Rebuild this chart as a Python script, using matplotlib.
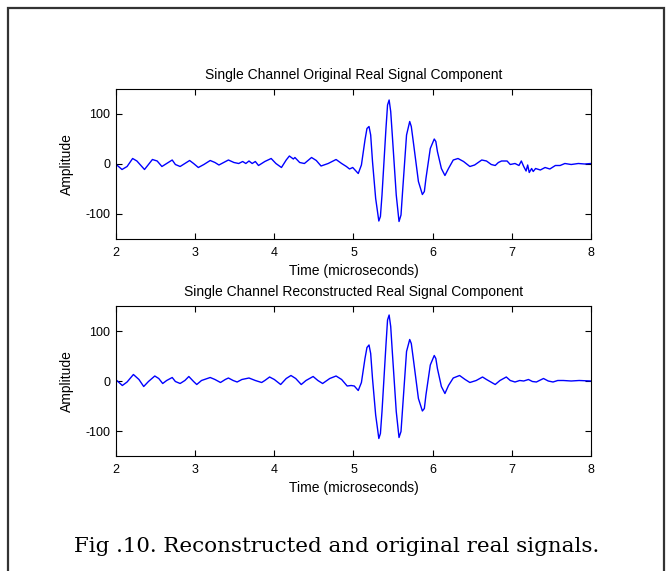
import matplotlib
matplotlib.use("Agg")
import matplotlib.pyplot as plt
from matplotlib.patches import Rectangle

# ---- data ----
t_orig = [2.00, 2.01, 2.076, 2.14, 2.21, 2.264, 2.36, 2.41, 2.46, 2.52, 2.58, 2.64, 2.71, 2.75,
          2.81, 2.87, 2.93, 2.98, 3.04, 3.11, 3.19, 3.25, 3.30, 3.36, 3.42, 3.49, 3.55, 3.60,
          3.64, 3.68, 3.72, 3.76, 3.80, 3.84, 3.88, 3.96, 4.02, 4.09, 4.15, 4.19, 4.24, 4.26,
          4.32, 4.38, 4.47, 4.53, 4.59, 4.68, 4.78, 4.85, 4.91, 4.95, 4.99, 5.06, 5.10, 5.145,
          5.17, 5.196, 5.217, 5.24, 5.28, 5.32, 5.34, 5.36, 5.41, 5.43, 5.45, 5.47, 5.49, 5.54,
          5.575, 5.60, 5.62, 5.67, 5.71, 5.73, 5.755, 5.82, 5.87, 5.895, 5.915, 5.97, 6.02, 6.04,
          6.06, 6.11, 6.155, 6.20, 6.26, 6.32, 6.39, 6.47, 6.53, 6.62, 6.68, 6.74, 6.79, 6.83,
          6.87, 6.94, 6.98, 7.04, 7.09, 7.12, 7.15, 7.18, 7.20, 7.22, 7.25, 7.27, 7.30, 7.36,
          7.42, 7.48, 7.55, 7.61, 7.67, 7.75, 7.84, 7.92, 8.00]
a_orig = [0, -2, -11, -5, 11, 6, -11, -1, 9, 6, -5, 1, 8, -1,
          -5, 1, 7, 1, -7, -1, 7, 3, -2, 3, 8, 3, 1, 5,
          1, 6, 1, 5, -3, 1, 5, 11, 1, -7, 8, 16, 10, 13,
          3, 1, 13, 7, -4, 1, 9, 1, -5, -10, -7, -19, -2, 48,
          71, 75, 58, 5, -69, -114, -105, -62, 71, 118, 128, 105, 58, -62,
          -115, -102, -55, 58, 85, 75, 45, -35, -61, -55, -29, 31, 50, 45,
          25, -9, -23, -9, 8, 11, 5, -5, -2, 8, 6, -1, -3, 3,
          6, 6, -1, 1, -3, 6, -5, -14, -2, -17, -9, -15, -9, -12,
          -7, -10, -3, -3, 1, -1, 1, 0, 1]

t_rec = [2.00, 2.01, 2.08, 2.14, 2.22, 2.29, 2.35, 2.41, 2.49, 2.54, 2.59, 2.64, 2.71, 2.75,
         2.81, 2.87, 2.92, 2.98, 3.02, 3.08, 3.19, 3.25, 3.32, 3.38, 3.42, 3.48, 3.53, 3.59,
         3.68, 3.76, 3.84, 3.88, 3.94, 4.00, 4.08, 4.15, 4.21, 4.27, 4.34, 4.40, 4.49, 4.55,
         4.61, 4.70, 4.78, 4.85, 4.92, 4.97, 5.01, 5.06, 5.10, 5.145, 5.17, 5.196, 5.217, 5.24,
         5.28, 5.32, 5.34, 5.36, 5.41, 5.43, 5.45, 5.47, 5.49, 5.54, 5.575, 5.60, 5.62, 5.67,
         5.71, 5.73, 5.755, 5.82, 5.87, 5.895, 5.915, 5.97, 6.02, 6.04, 6.06, 6.11, 6.155, 6.20,
         6.26, 6.34, 6.41, 6.47, 6.55, 6.63, 6.68, 6.79, 6.85, 6.93, 6.98, 7.04, 7.10, 7.15,
         7.21, 7.26, 7.31, 7.40, 7.46, 7.52, 7.58, 7.65, 7.75, 7.85, 8.00]
a_rec = [2, 1, -9, -2, 13, 3, -11, -1, 10, 5, -5, 1, 7, -1,
         -5, 1, 9, -1, -7, 1, 7, 3, -3, 3, 6, 1, -2, 3,
         6, 1, -3, 1, 8, 3, -7, 5, 11, 5, -7, 1, 9, 1,
         -5, 5, 10, 3, -10, -9, -10, -19, -3, 45, 67, 72, 55, 5,
         -68, -115, -105, -61, 72, 122, 132, 109, 59, -61, -113, -101, -55, 59,
         83, 75, 45, -35, -60, -55, -28, 32, 51, 45, 25, -11, -25, -9,
         6, 11, 3, -3, 1, 8, 3, -7, 1, 8, 1, -2, 1, 0,
         3, -1, -2, 5, 0, -2, 1, 1, 0, 1, 0]

titles = ["Single Channel Original Real Signal Component",
          "Single Channel Reconstructed Real Signal Component"]
x_ticks = [2, 3, 4, 5, 6, 7, 8]
y_ticks = [-100, 0, 100]
x_label = "Time (microseconds)"
y_label = "Amplitude"
caption = "Fig .10. Reconstructed and original real signals."

W, H = 670, 571
plt.rcParams['font.family'] = ['Liberation Sans', 'DejaVu Sans']
plt.rcParams['axes.unicode_minus'] = False
fig = plt.figure(figsize=(W / 100, H / 100), dpi=100)

def fx(px):
    return px / W

def fy(py):
    return 1 - py / H

# outer frame
fig.patches.append(Rectangle((fx(8), fy(575)), fx(664) - fx(8), fy(8) - fy(575),
                             transform=fig.transFigure, fill=False,
                             edgecolor='#333333', linewidth=1.6))

axes_px = [(89, 239), (306, 456)]
series = [(t_orig, a_orig), (t_rec, a_rec)]

for (top, bot), (t, a), title in zip(axes_px, series, titles):
    ax = fig.add_axes([fx(116), fy(bot), fx(591) - fx(116), fy(top) - fy(bot)])
    ax.plot(t, a, color='#0000ff', linewidth=1.0)
    ax.set_xlim(2, 8)
    ax.set_ylim(-150, 150)
    ax.set_xticks(x_ticks)
    ax.set_yticks(y_ticks)
    ax.tick_params(direction='in', length=4, width=0.8, top=True, right=True,
                   labelsize=9)
    ax.tick_params(axis='x', pad=5.5)
    ax.tick_params(axis='y', pad=4)
    for s in ax.spines.values():
        s.set_linewidth(0.8)
    ax.set_title(title, fontsize=10, pad=7.5)
    ax.set_xlabel(x_label, fontsize=10)
    ax.set_ylabel(y_label, fontsize=10)
    ax.xaxis.set_label_coords(0.5, -0.165)
    ax.yaxis.set_label_coords(-0.088, 0.5)

fig.text(fx(337), fy(547), caption, ha='center', va='center',
         fontsize=15.4, family=['DejaVu Serif'])

fig.savefig("out.png", dpi=100, facecolor='white')
